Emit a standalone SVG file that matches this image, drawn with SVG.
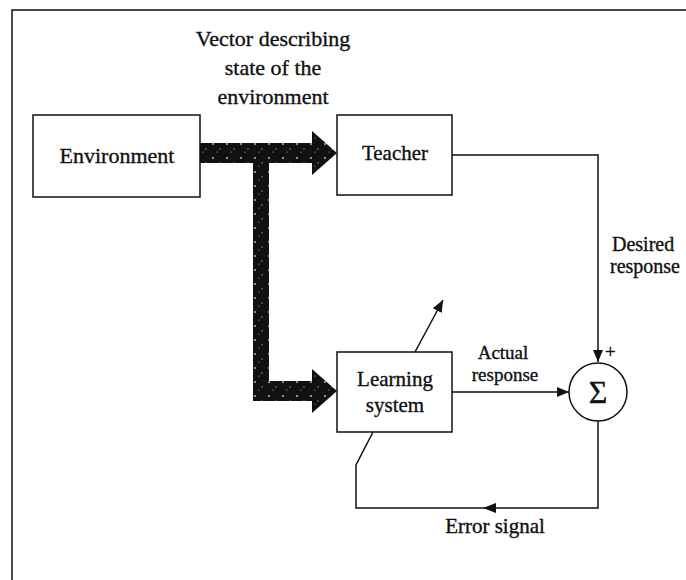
<svg xmlns="http://www.w3.org/2000/svg" width="686" height="580" viewBox="0 0 686 580">
<style>
.t{font-family:"Liberation Serif","Times New Roman",serif;font-size:21px;fill:#111;stroke:#111;stroke-width:0.35;}
.c{text-anchor:middle;}
.box{fill:#fff;stroke:#111;stroke-width:1.5;}
.ln{fill:none;stroke:#111;stroke-width:1.5;}
.thick{fill:url(#spk);}
</style>
<defs>
<pattern id="spk" width="14" height="14" patternUnits="userSpaceOnUse">
<rect width="14" height="14" fill="#111"/>
<circle cx="3" cy="4" r="0.9" fill="#ccc"/>
<circle cx="10" cy="9" r="0.7" fill="#aaa"/>
<circle cx="7" cy="12" r="0.6" fill="#bbb"/>
</pattern>
<marker id="ah" viewBox="0 0 12 10" refX="12" refY="5" markerWidth="12" markerHeight="10" markerUnits="userSpaceOnUse" orient="auto">
<path d="M0,0 L12,5 L0,10 Z" fill="#111"/>
</marker>
</defs>
<rect width="686" height="580" fill="#fff"/>
<g id="frame">
<path class="ln" d="M12,580 V10 H686"/>
</g>
<g id="label-vector">
<text class="t c" x="273" y="46" style="font-size:22px">Vector describing</text>
<text class="t c" x="273" y="75" style="font-size:22px">state of the</text>
<text class="t c" x="273" y="104" style="font-size:22px">environment</text>
</g>
<g id="environment">
<rect class="box" x="33" y="115" width="167" height="82"/>
<text class="t c" x="117" y="163" style="font-size:22px">Environment</text>
</g>
<g id="teacher">
<rect class="box" x="337" y="115" width="115" height="80"/>
<text class="t c" x="395" y="160">Teacher</text>
</g>
<g id="learning">
<rect class="box" x="337" y="352" width="115" height="80"/>
<text class="t c" x="395" y="386">Learning</text>
<text class="t c" x="395" y="412">system</text>
</g>
<g id="sum">
<circle class="box" cx="598" cy="392" r="29"/>
<text class="t c" x="598" y="403" style="font-size:32px">Σ</text>
<text class="t" x="605" y="358" style="font-size:19px">+</text>
</g>
<g id="connectors">
<path class="thick" d="M200,143 H312 V131 L337,153 L312,175 V163 H269 V381 H312 V369 L337,391 L312,413 V401 H253 V163 H200 Z"/>
<path class="ln" d="M452,155 H598 V362" marker-end="url(#ah)"/>
<path class="ln" d="M452,392 H569" marker-end="url(#ah)"/>
<path class="ln" d="M415,352 L443,300" marker-end="url(#ah)"/>
<path class="ln" d="M598,421 V508 H356 V465 L373,432"/>
<path d="M483,508 L496,503 L496,513 Z" fill="#111"/>
</g>
<g id="labels">
<text class="t" x="612" y="251" style="font-size:20px">Desired</text>
<text class="t" x="610" y="273" style="font-size:20px">response</text>
<text class="t c" x="503" y="359" style="font-size:19px">Actual</text>
<text class="t c" x="505" y="381" style="font-size:19px">response</text>
<text class="t c" x="495" y="533">Error signal</text>
</g>
</svg>
